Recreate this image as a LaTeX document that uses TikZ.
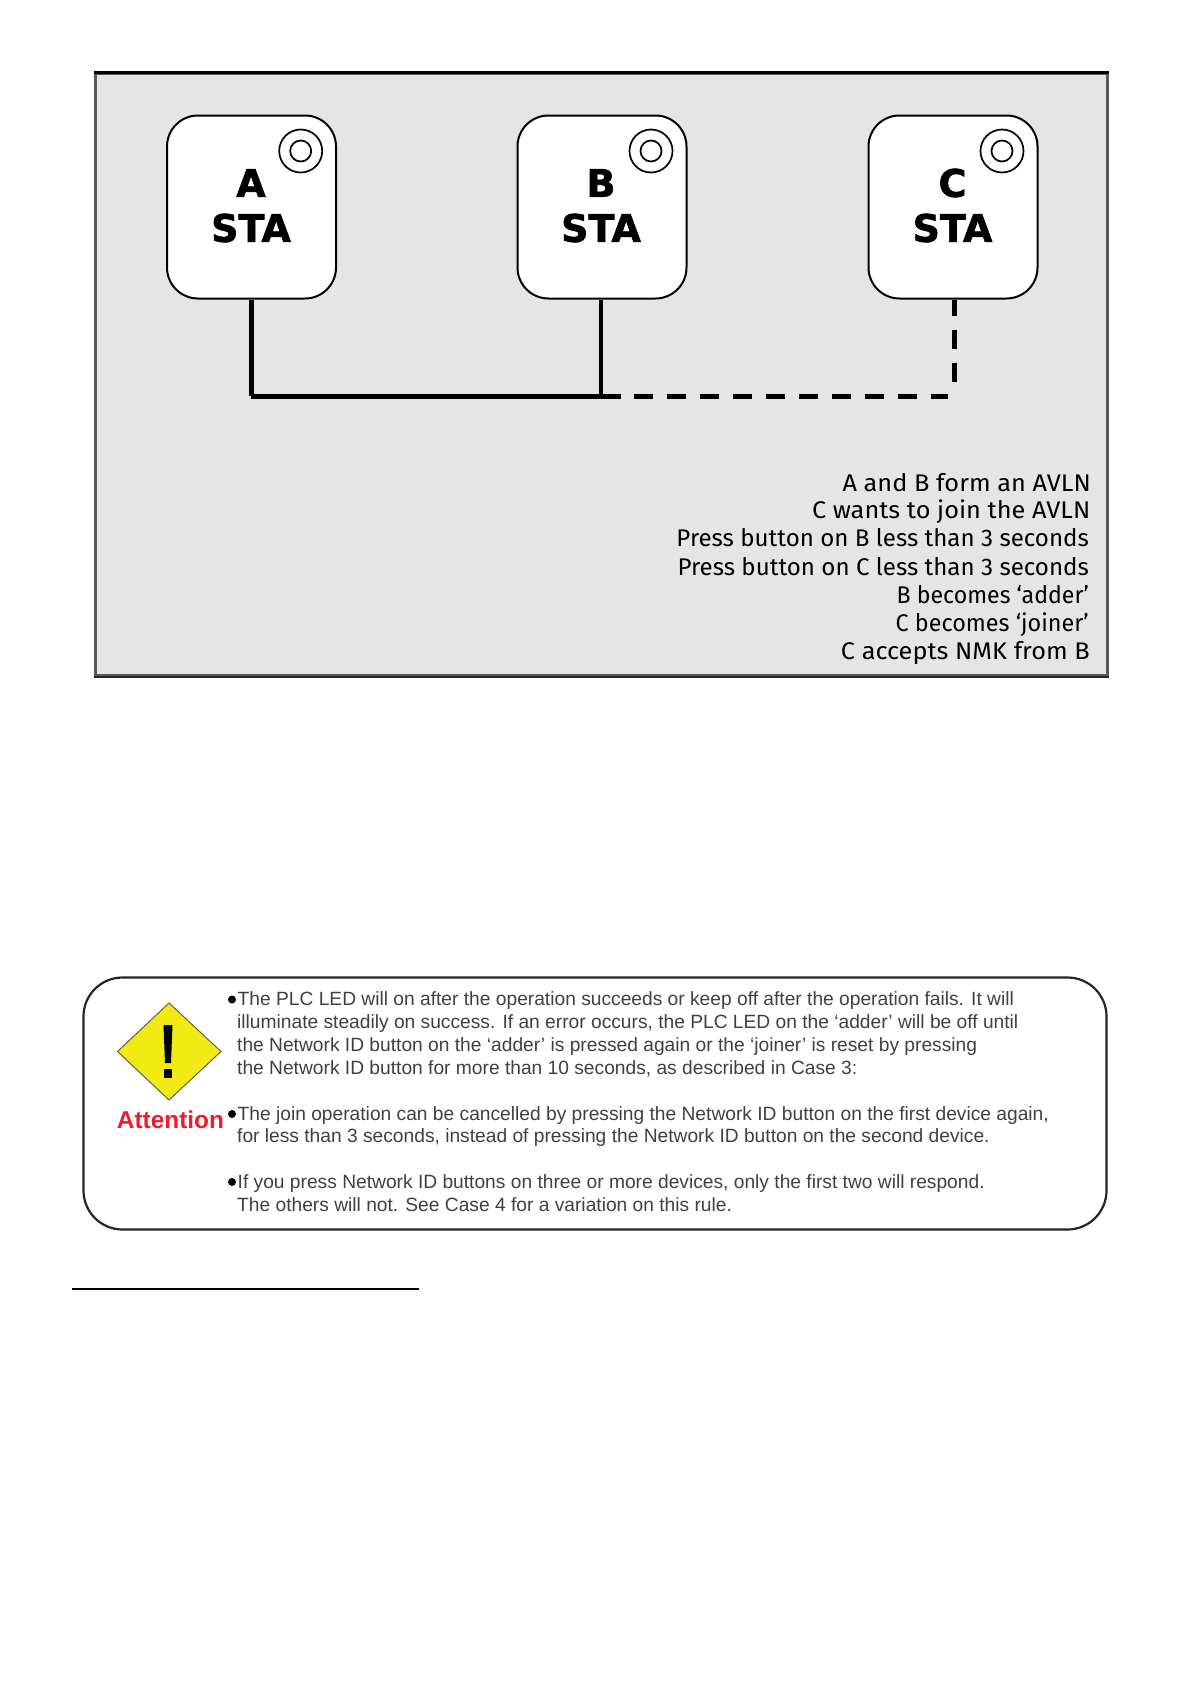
\documentclass[tikz,border=0pt]{standalone}
\usepackage{fontspec}
\setmainfont{Liberation Sans}
\newfontfamily\heavyfont[FakeBold=1.6]{DejaVu Sans Bold}
\newfontfamily\handfont{Fira Sans}
\definecolor{panelgray}{HTML}{E5E5E5}
\definecolor{notegray}{HTML}{404040}
\definecolor{warnyellow}{HTML}{F2EA14}
\definecolor{warnred}{HTML}{EE1C2E}
\tikzset{
  station/.style={draw=black,line width=2pt,fill=white,rounded corners=31pt,minimum width=169pt,minimum height=183pt,inner sep=0pt},
  stationbtn/.style={circle,draw=black,line width=1.7pt,fill=white,inner sep=0pt},
  heavy/.style={inner sep=0pt,font=\heavyfont\fontsize{38}{38}\selectfont},
  wirethick/.style={line width=5pt},
  wirethin/.style={line width=3.8pt},
  wiredash/.style={line width=5pt,dash pattern=on 19pt off 14pt},
  handline/.style={anchor=base east,inner sep=0pt,font=\handfont\fontsize{24.1}{24.1}\selectfont},
  noteline/.style={anchor=base west,inner sep=0pt,text=notegray,font=\fontsize{19.2}{19.2}\selectfont},
  notebullet/.style={circle,fill=black,inner sep=0pt,minimum size=8pt},
}
\begin{document}
\begin{tikzpicture}[x=1pt,y=-1pt]
\useasboundingbox (0,0) rectangle (1192,1684);
\fill[white] (0,0) rectangle (1192,1684);
% panel
\node[draw=black!65,line width=2.4pt,fill=panelgray,minimum width=1012pt,minimum height=602pt,inner sep=0pt] (panel) at (601.5,374.5) {};
\draw[line width=2.8pt] (panel.north west) -- (panel.north east);
\draw[line width=2.2pt,black!85] (panel.south west) -- (panel.south east);
% stations
\node[station] (a) at (251.5,207) {};
\node[station] (b) at (602,207) {};
\node[station] (c) at (953,207) {};
\foreach \n/\x in {a/300.7,b/651,c/1002}{
  \node[stationbtn,minimum size=43pt] (btn\n) at (\x,151) {};
  \node[stationbtn,minimum size=21pt] (led\n) at (\x,151) {};
}
\node[heavy] (la) at (251,183) {A};
\node[heavy] (lb) at (601,183) {B};
\node[heavy] (lc) at (952.5,183) {C};
\node[heavy] (sa) at (251,228) {STA};
\node[heavy] (sb) at (601,228) {STA};
\node[heavy] (sc) at (952.5,228) {STA};
% wires
\coordinate (busa) at (251,396);
\coordinate (busb) at (601,396);
\coordinate (busend) at (620.5,396);
\coordinate (dashstart) at (634,396);
\coordinate (dashend) at (948,396);
\coordinate (cdash) at (954,382);
\draw[wirethick,line cap=square] (a.south -| busa) -- (busa);
\draw[wirethick] (busa) -- (busend);
\draw[wirethin] (b.south -| busb) -- (busb);
\draw[wiredash] (dashstart) -- (dashend);
\draw[wiredash] (cdash) -- (c.south -| cdash);
% text
\node[handline] (t1) at (1091,491.5) {\scalebox{1.05}[1]{A and B form an AVLN}};
\node[handline] (t2) at (1090.5,518.5) {\scalebox{1.05}[1]{C wants to join the AVLN}};
\node[handline] (t3) at (1089,546.5) {Press button on B less than 3 seconds};
\node[handline] (t4) at (1089,575) {Press button on C less than 3 seconds};
\node[handline] (t5) at (1089,603) {\scalebox{.96}[1]{B becomes ‘adder’}};
\node[handline] (t6) at (1089,631.5) {\scalebox{.97}[1]{C becomes ‘joiner’}};
\node[handline] (t7) at (1090,659) {\scalebox{1.05}[1]{C accepts NMK from B}};
% attention box
\node[draw=black!85,line width=2.2pt,fill=white,rounded corners=39pt,minimum width=1023pt,minimum height=252pt,inner sep=0pt] (box) at (595,1103.5) {};
\path[draw=black!70!yellow,line width=1pt,fill=warnyellow] (169,1003) coordinate (dn) -- (221,1051.5) coordinate (de) -- (169,1100) coordinate (ds) -- (117.5,1051.5) coordinate (dw) -- cycle;
\fill (163.5,1025) -- (172.5,1025) -- (171,1063) -- (165,1063) -- cycle;
\fill (163.5,1069) rectangle (172,1077.5);
\node[inner sep=0pt,text=warnred,font=\bfseries\fontsize{24.4}{24.4}\selectfont] (att) at (170.5,1120) {Attention};
\foreach \y in {999.5,1114,1182}{\node[notebullet] at (232,\y) {};}
\node[noteline] (n1) at (237.5,1005.7) {The PLC LED will on after the operation succeeds or keep off after the operation fails. It will};
\node[noteline] (n2) at (237,1028) {illuminate steadily on success. If an error occurs, the PLC LED on the ‘adder’ will be off until};
\node[noteline] (n3) at (237,1051.5) {the Network ID button on the ‘adder’ is pressed again or the ‘joiner’ is reset by pressing};
\node[noteline] (n4) at (237,1074) {the Network ID button for more than 10 seconds, as described in Case 3:};
\node[noteline] (n5) at (237.5,1120) {The join operation can be cancelled by pressing the Network ID button on the first device again,};
\node[noteline] (n6) at (237,1142.7) {for less than 3 seconds, instead of pressing the Network ID button on the second device.};
\node[noteline] (n7) at (237.5,1188.3) {If you press Network ID buttons on three or more devices, only the first two will respond.};
\node[noteline] (n8) at (237,1211) {The others will not. See Case 4 for a variation on this rule.};
% footnote rule
\draw[line width=1.6pt] (72,1289) -- (419,1289);
\end{tikzpicture}
\end{document}
